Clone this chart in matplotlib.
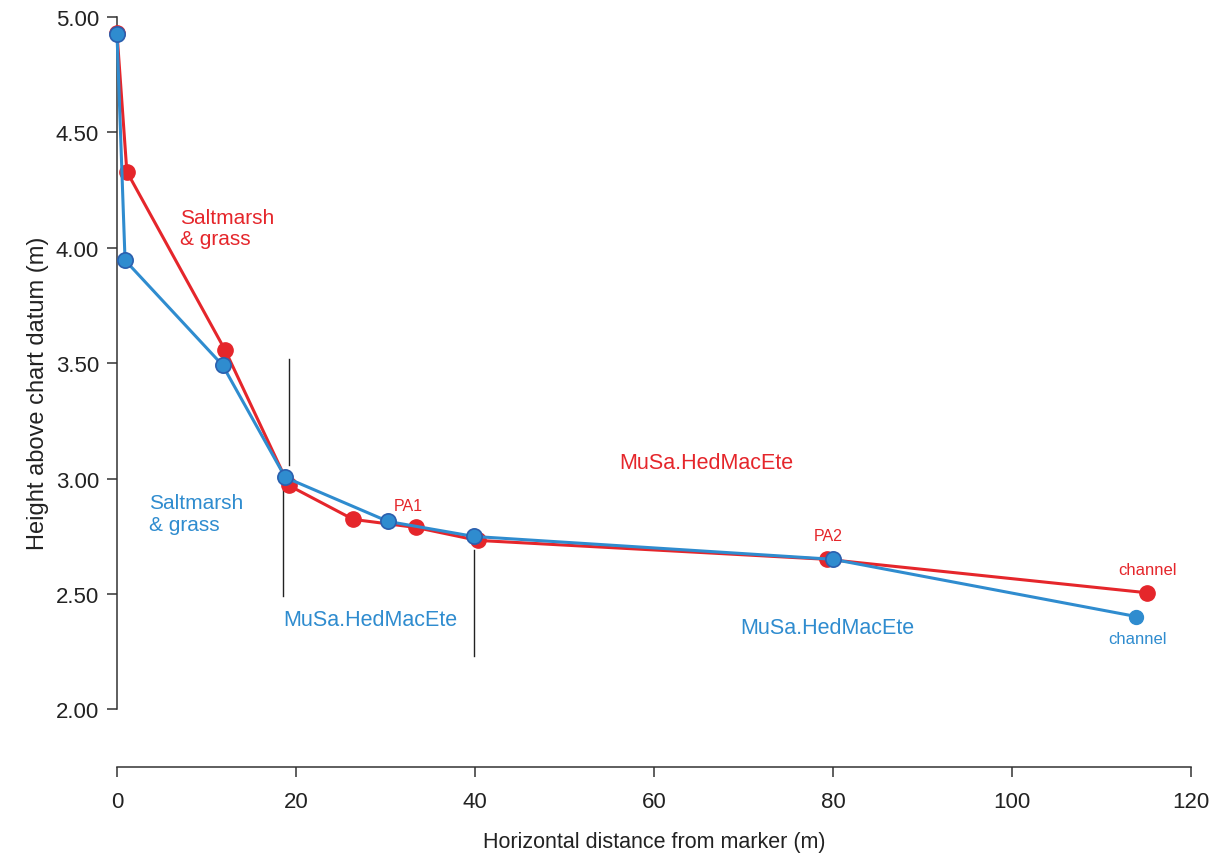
import matplotlib
matplotlib.use("Agg")
import matplotlib.pyplot as plt

plt.rcParams['font.family'] = ['Liberation Sans', 'DejaVu Sans']

# Data
red_x = [0.0, 1.1, 12.1, 19.2, 26.4, 33.4, 40.3, 79.3, 115.1]
red_y = [4.93, 4.33, 3.555, 2.97, 2.823, 2.788, 2.732, 2.650, 2.505]
blue_x = [0.0, 0.9, 11.8, 18.8, 30.3, 39.9, 80.0, 113.9]
blue_y = [4.926, 3.946, 3.491, 3.005, 2.814, 2.749, 2.650, 2.402]

x_ticks = [0, 20, 40, 60, 80, 100, 120]
y_ticks = [2.0, 2.5, 3.0, 3.5, 4.0, 4.5, 5.0]

# zone boundary markers: (x, y_start, y_end)
boundaries = [(19.2, 3.06, 3.52), (18.5, 2.49, 2.95), (39.9, 2.23, 2.69)]

RED = '#e5262b'
BLUE = '#2f8ccf'
EDGE = '#2b5fae'

fig = plt.figure(figsize=(12.2, 8.54), dpi=100)
ax = fig.add_axes([0.0959, 0.1007, 0.8803, 0.8782])

LW = 2.2
MS = 11
ax.plot(red_x, red_y, color=RED, lw=LW, marker='o', ms=MS, mfc=RED, mec=RED,
        zorder=3, clip_on=False)
ax.plot(blue_x, blue_y, color=BLUE, lw=LW, zorder=4, clip_on=False)
ax.plot(blue_x[:-1], blue_y[:-1], ls='none', marker='o', ms=MS, mfc=BLUE, mec=EDGE,
        mew=1.2, zorder=5, clip_on=False)
ax.plot(blue_x[-1:], blue_y[-1:], ls='none', marker='o', ms=10, mfc=BLUE, mec=BLUE,
        zorder=5, clip_on=False)

for bx, y0, y1 in boundaries:
    ax.plot([bx, bx], [y0, y1], color='#222222', lw=1.0, zorder=2)

ax.text(7.0, 4.085, 'Saltmarsh\n& grass', color=RED, fontsize=15, ha='left', va='center',
        linespacing=1.15)
ax.text(3.6, 2.849, 'Saltmarsh\n& grass', color=BLUE, fontsize=15, ha='left', va='center',
        linespacing=1.15)
ax.text(65.8, 3.07, 'MuSa.HedMacEte', color=RED, fontsize=15.5, ha='center', va='center')
ax.text(28.3, 2.39, 'MuSa.HedMacEte', color=BLUE, fontsize=15.5, ha='center', va='center')
ax.text(79.4, 2.355, 'MuSa.HedMacEte', color=BLUE, fontsize=15.5, ha='center', va='center')
ax.text(32.5, 2.885, 'PA1', color=RED, fontsize=11.5, ha='center', va='center')
ax.text(79.5, 2.755, 'PA2', color=RED, fontsize=11.5, ha='center', va='center')
ax.text(115.1, 2.606, 'channel', color=RED, fontsize=12, ha='center', va='center')
ax.text(114.0, 2.307, 'channel', color=BLUE, fontsize=12, ha='center', va='center')

ax.set_xlim(0, 120)
ax.set_ylim(1.75, 5.0)
ax.set_xticks(x_ticks)
ax.set_xticklabels([str(v) for v in x_ticks])
ax.set_yticks(y_ticks)
ax.set_yticklabels([f'{v:.2f}' for v in y_ticks])

for s in ['top', 'right']:
    ax.spines[s].set_visible(False)
ax.spines['left'].set_bounds(2.0, 5.0)
ax.spines['bottom'].set_bounds(0, 120)
for s in ['left', 'bottom']:
    ax.spines[s].set_color('#333333')
    ax.spines[s].set_linewidth(1.1)
ax.tick_params(axis='both', direction='out', length=7, width=1.1, color='#333333',
               labelsize=16, labelcolor='#222222')
ax.tick_params(axis='x', pad=10)
ax.tick_params(axis='y', pad=6)

ax.set_xlabel('Horizontal distance from marker (m)', fontsize=15.5, color='#222222', labelpad=14)
ax.set_ylabel('Height above chart datum (m)', fontsize=17, color='#222222', labelpad=5)
ax.patch.set_alpha(0)

fig.savefig('out.png', dpi=100)
